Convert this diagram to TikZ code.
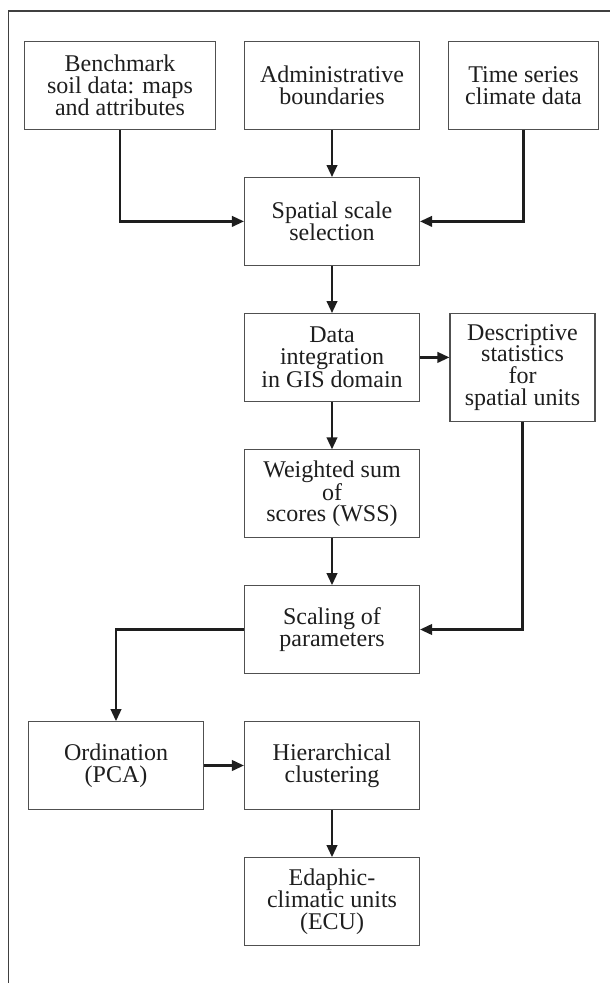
\documentclass[tikz,border=0pt]{standalone}
\usepackage{fontspec}
\setmainfont{Liberation Serif}
\usetikzlibrary{arrows.meta}
\definecolor{ink}{HTML}{1E1E1E}
\definecolor{boxline}{HTML}{505050}
\definecolor{frameline}{HTML}{404040}
\begin{document}
\begin{tikzpicture}[x=1pt,y=-1pt,
  fbox/.style={draw=boxline, line width=1.1pt, align=center, text=ink,
    minimum width=175pt, minimum height=87.6pt, inner sep=0pt,
    font=\fontsize{24}{21.7}\selectfont},
  conn/.style={draw=ink, line width=2.3pt,
    -{Triangle[length=12pt,width=10.5pt]}}]
\useasboundingbox (0,0) rectangle (610,983);
\draw[frameline, line width=1.8pt] (8.5,983) -- (8.5,11) -- (610,11);

\node[fbox, minimum width=191pt] (bench) at (120,85.5) {Benchmark\\soil data: maps\\and attributes};
\node[fbox] (admin) at (332,85.5) {Administrative\\boundaries};
\node[fbox, minimum width=150pt] (time) at (523.5,85.5) {Time series\\climate data};
\node[fbox] (spatial) at (332,221.4) {Spatial scale\\selection};
\node[fbox] (data) at (332,357.4) {Data\\integration\\in GIS domain};
\node[fbox, minimum width=145pt, minimum height=108.7pt] (desc) at (522.5,367.4) {Descriptive\\statistics\\for\\spatial units};
\node[fbox] (wss) at (332,493.7) {Weighted sum\\of\\scores (WSS)};
\node[fbox] (scal) at (332,629.5) {Scaling of\\parameters};
\node[fbox] (ord) at (116,765.5) {Ordination\\(PCA)};
\node[fbox] (hier) at (332,765.5) {Hierarchical\\clustering};
\node[fbox] (ecu) at (332,901.5) {Edaphic-\\climatic units\\(ECU)};

\draw[conn] (bench.south) |- (spatial.west);
\draw[conn] (admin.south) -- (spatial.north);
\draw[conn] (time.south) |- (spatial.east);
\draw[conn] (spatial.south) -- (data.north);
\draw[conn] (data.east) -- (data.east -| desc.west);
\draw[conn] (desc.south) |- (scal.east);
\draw[conn] (data.south) -- (wss.north);
\draw[conn] (wss.south) -- (scal.north);
\draw[conn] (scal.west) -| (ord.north);
\draw[conn] (ord.east) -- (hier.west);
\draw[conn] (hier.south) -- (ecu.north);
\end{tikzpicture}
\end{document}
